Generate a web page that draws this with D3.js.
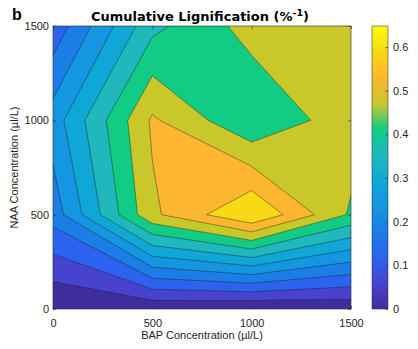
<!DOCTYPE html>
<html><head><meta charset="utf-8">
<script src="https://cdn.jsdelivr.net/npm/d3@7"></script>
<style>
body{margin:0;background:#fff;}
svg text{font-family:"Liberation Sans",Arial,Helvetica,sans-serif;fill:#262626;}
</style></head><body>
<svg id="chart" width="418" height="349"></svg>
<script>
// ---- data ----
const bapLevels = [0, 500, 1000, 1500];          // x grid (µl/L)
const naaLevels = [0, 500, 1000, 1500];          // y grid (µl/L)
const lignNAA0    = [0.000, 0.012, 0.000, 0.012]; // cumulative lignification, NAA = 0
const lignNAA500  = [0.203, 0.518, 0.648, 0.462]; // NAA = 500
const lignNAA1000 = [0.265, 0.539, 0.418, 0.507]; // NAA = 1000
const lignNAA1500 = [0.137, 0.395, 0.495, 0.501]; // NAA = 1500
const contourLevels = [0.059, 0.118, 0.177, 0.236, 0.295, 0.353, 0.412, 0.471, 0.530, 0.589];
const xTickValues = [0, 500, 1000, 1500];
const yTickValues = [0, 500, 1000, 1500];
const cbTickValues = [0, 0.1, 0.2, 0.3, 0.4, 0.5, 0.6];

// ---- styles ----
const bandColors = ["#3f2d9e","#4743cf","#2c63ee","#1a7ee6","#1596e0","#0fa8d6","#1fb8bc","#12cc84","#c9c82b","#fdb62f","#f7d916","#f9fb0e"];
const plot = {left:53, right:351, top:26, bottom:309};
const cb = {left:372, right:388};

const svg = d3.select("#chart");
const x = d3.scaleLinear().domain([0,1500]).range([plot.left, plot.right]);
const y = d3.scaleLinear().domain([0,1500]).range([plot.bottom, plot.top]);
const grid = [lignNAA0, lignNAA500, lignNAA1000, lignNAA1500];
const allVals = grid.flat();
const zMin = d3.min(allVals), zMax = d3.max(allVals);
const color = d3.scaleLinear().domain([zMin, ...contourLevels, zMax]).range(bandColors).interpolate(d3.interpolateRgb);

function node(p){ return [bapLevels[p[0]], naaLevels[p[1]]]; }
function val(p){ return grid[p[1]][p[0]]; }
function cross(a, b, L){
  let A=a, B=b;
  if (A[0]>B[0] || (A[0]===B[0] && A[1]>B[1])) { A=b; B=a; }
  const va=val(A), vb=val(B), t=(L-va)/(vb-va);
  const pa=node(A), pb=node(B);
  return [pa[0]+t*(pb[0]-pa[0]), pa[1]+t*(pb[1]-pa[1])];
}
function cellPieces(i, j, L){
  const c=[[i,j],[i+1,j],[i+1,j+1],[i,j+1]];
  const v=c.map(val), up=v.map(d=>d>=L);
  const n=up.filter(Boolean).length;
  const polys=[], segs=[];
  if(n===0) return {polys,segs};
  if(n===4){ polys.push(c.map(node)); return {polys,segs}; }
  const saddle = n===2 && up[0]===up[2];
  const center = d3.mean(v);
  const E=(k)=>cross(c[k], c[(k+1)%4], L);
  if(saddle && center < L){
    for(let k=0;k<4;k++) if(up[k]){ polys.push([E((k+3)%4), node(c[k]), E(k)]); segs.push([E((k+3)%4), E(k)]); }
  } else {
    const poly=[];
    for(let k=0;k<4;k++){ if(up[k]) poly.push(node(c[k])); if(up[k]!==up[(k+1)%4]) poly.push(E(k)); }
    polys.push(poly);
    if(saddle){
      for(let k=0;k<4;k++) if(!up[k]) segs.push([E((k+3)%4), E(k)]);
    } else {
      const pts=[]; for(let k=0;k<4;k++) if(up[k]!==up[(k+1)%4]) pts.push(E(k));
      segs.push(pts);
    }
  }
  return {polys,segs};
}
const toPath = pts => "M" + pts.map(p=>x(p[0]).toFixed(2)+","+y(p[1]).toFixed(2)).join("L");

const gC = svg.append("g");
gC.append("rect").attr("x",plot.left).attr("y",plot.top).attr("width",plot.right-plot.left).attr("height",plot.bottom-plot.top).attr("fill",color(zMin));
const allSegs=[];
contourLevels.forEach(L=>{
  let d="";
  for(let j=0;j<naaLevels.length-1;j++) for(let i=0;i<bapLevels.length-1;i++){
    const r=cellPieces(i,j,L);
    r.polys.forEach(p=>{ d+=toPath(p)+"Z"; });
    r.segs.forEach(s=>allSegs.push(s));
  }
  gC.append("path").attr("d",d).attr("fill",color(L)).attr("stroke","none");
});
gC.append("path").attr("d",allSegs.map(toPath).join("")).attr("fill","none").attr("stroke","#1a1a1a").attr("stroke-width",0.5).attr("stroke-opacity",0.85);

// box + ticks
const axC="#262626";
svg.append("rect").attr("x",plot.left).attr("y",plot.top).attr("width",plot.right-plot.left).attr("height",plot.bottom-plot.top).attr("fill","none").attr("stroke",axC).attr("stroke-width",0.6);
const gx=svg.append("g").attr("transform",`translate(0,${plot.bottom})`).call(d3.axisBottom(x).tickValues(xTickValues).tickFormat(d3.format("d")).tickSizeInner(-3).tickSizeOuter(0).tickPadding(10));
const gy=svg.append("g").attr("transform",`translate(${plot.left},0)`).call(d3.axisLeft(y).tickValues(yTickValues).tickFormat(d3.format("d")).tickSizeInner(-3).tickSizeOuter(0).tickPadding(4));
const gxt=svg.append("g").attr("transform",`translate(0,${plot.top})`).call(d3.axisTop(x).tickValues(xTickValues).tickFormat("").tickSizeInner(-3).tickSizeOuter(0));
const gyr=svg.append("g").attr("transform",`translate(${plot.right},0)`).call(d3.axisRight(y).tickValues(yTickValues).tickFormat("").tickSizeInner(-3).tickSizeOuter(0));
[gx,gy,gxt,gyr].forEach(g=>{ g.select(".domain").remove(); g.selectAll("line").attr("stroke",axC).attr("stroke-width",0.6); g.selectAll("text").attr("font-size",11).attr("fill",axC).attr("font-family",null); });

// colorbar
const cbY = d3.scaleLinear().domain([zMin, zMax]).range([plot.bottom, plot.top]);
const grad = svg.append("defs").append("linearGradient").attr("id","cbgrad").attr("x1",0).attr("y1",1).attr("x2",0).attr("y2",0);
d3.range(0,1.0001,1/64).forEach(t=>{ grad.append("stop").attr("offset",t).attr("stop-color",color(zMin+t*(zMax-zMin))); });
svg.append("rect").attr("x",cb.left).attr("y",plot.top).attr("width",cb.right-cb.left).attr("height",plot.bottom-plot.top).attr("fill","url(#cbgrad)").attr("stroke",axC).attr("stroke-width",0.5);
const gcb=svg.append("g").attr("transform",`translate(${cb.right},0)`).call(d3.axisRight(cbY).tickValues(cbTickValues).tickFormat(d=>d===0?"0":d3.format(".1f")(d)).tickSizeInner(-2.5).tickSizeOuter(0).tickPadding(5));
gcb.select(".domain").remove();
gcb.selectAll("line").attr("stroke",axC).attr("stroke-width",0.6);
gcb.selectAll("text").attr("font-size",11).attr("fill",axC).attr("font-family",null);

// labels
const title = svg.append("text").attr("x",200).attr("y",20.5).attr("text-anchor","middle").attr("font-size",13).attr("font-weight","bold").style("font-family","'DejaVu Sans',Verdana,sans-serif").style("fill","#000");
title.append("tspan").text("Cumulative Lignification (%");
title.append("tspan").attr("dy",-4.5).attr("font-size",9.5).text("-1");
title.append("tspan").attr("dy",4.5).text(")");
svg.append("text").attr("x",12).attr("y",20).attr("font-size",16).attr("font-weight","bold").style("fill","#000").text("b");
svg.append("text").attr("x",(plot.left+plot.right)/2).attr("y",339).attr("text-anchor","middle").attr("font-size",11).text("BAP Concentration (µl/L)");
svg.append("text").attr("transform",`translate(18,${(plot.top+plot.bottom)/2}) rotate(-90)`).attr("text-anchor","middle").attr("font-size",11).text("NAA Concentration (µl/L)");
</script></body></html>
